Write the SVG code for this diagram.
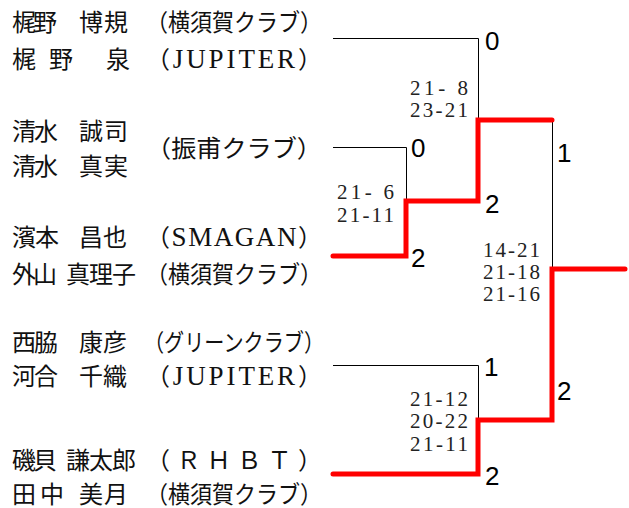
<svg xmlns="http://www.w3.org/2000/svg" width="629" height="508" viewBox="0 0 629 508">
<style>
.nm{font-family:"Liberation Serif","Noto Sans CJK JP",serif;font-size:24px;fill:#111}
.lat{font-family:"Liberation Serif",serif;font-size:27px}
.sc{font-family:"Liberation Serif","Noto Sans CJK JP",serif;font-size:21px;fill:#222}
.win{font-family:"Liberation Sans",Arial,sans-serif;font-size:26px;fill:#000}
.thin{fill:none;stroke:#000;stroke-width:1}
.red{fill:none;stroke:#ff0000;stroke-width:5;stroke-linecap:round;stroke-linejoin:miter}
</style>
<rect width="629" height="508" fill="#fff"/>
<g id="connectors">
<path class="thin" d="M333 38.5H478.5V120"/>
<path class="thin" d="M333 147.5H406.5V201"/>
<path class="thin" d="M552.5 120V269"/>
<path class="thin" d="M333 365.5H478.5V420"/>
<path class="red" d="M333 256H406V201H478V120H552"/>
<path class="red" d="M333 474H478V420H552V269H625"/>
</g>
<g id="pair1">
<text class="nm" y="31" x="12 33 79 104">梶野博規</text>
<text class="nm" y="68" x="12 49 106">梶野泉</text>
<text class="nm" x="146" y="31" textLength="176" lengthAdjust="spacingAndGlyphs">（横須賀クラブ）</text>
<text class="nm" x="146" y="68" textLength="176" lengthAdjust="spacing">（<tspan class="lat">JUPITER</tspan>）</text>
</g>
<g id="pair2">
<text class="nm" y="140" x="12 34 79 104">清水誠司</text>
<text class="nm" y="175" x="12 34 79 104">清水真実</text>
<text class="nm" x="146" y="157" textLength="176" lengthAdjust="spacingAndGlyphs">（振甫クラブ）</text>
</g>
<g id="pair3">
<text class="nm" y="246" x="12 35 79 103">濱本昌也</text>
<text class="nm" y="283" x="12 33 66 89 112">外山真理子</text>
<text class="nm" x="146" y="246" textLength="176" lengthAdjust="spacing">（<tspan class="lat">SMAGAN</tspan>）</text>
<text class="nm" x="146" y="283" textLength="176" lengthAdjust="spacingAndGlyphs">（横須賀クラブ）</text>
</g>
<g id="pair4">
<text class="nm" y="351" x="12 34 79 103">西脇康彦</text>
<text class="nm" y="385" x="12 34 79 103">河合千織</text>
<text class="nm" x="144" y="351" textLength="180" lengthAdjust="spacingAndGlyphs">（グリーンクラブ）</text>
<text class="nm" x="146" y="385" textLength="176" lengthAdjust="spacing">（<tspan class="lat">JUPITER</tspan>）</text>
</g>
<g id="pair5">
<text class="nm" y="469" x="12 33 66 89 112">磯貝謙太郎</text>
<text class="nm" y="503" x="12 40 79 104">田中美月</text>
<text class="nm" x="146" y="469" textLength="176" lengthAdjust="spacing">（ＲＨＢＴ）</text>
<text class="nm" x="146" y="503" textLength="176" lengthAdjust="spacingAndGlyphs">（横須賀クラブ）</text>
</g>
<g id="scores">
<text class="sc" x="410" y="95" textLength="58" xml:space="preserve">21- 8</text>
<text class="sc" x="410" y="117" textLength="58">23-21</text>
<text class="sc" x="337" y="199" textLength="57" xml:space="preserve">21- 6</text>
<text class="sc" x="337" y="222" textLength="57">21-11</text>
<text class="sc" x="483" y="257" textLength="57">14-21</text>
<text class="sc" x="483" y="279" textLength="57">21-18</text>
<text class="sc" x="483" y="301" textLength="57">21-16</text>
<text class="sc" x="410" y="406" textLength="58">21-12</text>
<text class="sc" x="410" y="428" textLength="58">20-22</text>
<text class="sc" x="410" y="451" textLength="58">21-11</text>
</g>
<g id="results">
<text class="win" x="485" y="50">0</text>
<text class="win" x="411" y="157">0</text>
<text class="win" x="485" y="213">2</text>
<text class="win" x="411" y="267">2</text>
<text class="win" x="557" y="162">1</text>
<text class="win" x="557" y="400">2</text>
<text class="win" x="484" y="376">1</text>
<text class="win" x="485" y="485">2</text>
</g>
</svg>
